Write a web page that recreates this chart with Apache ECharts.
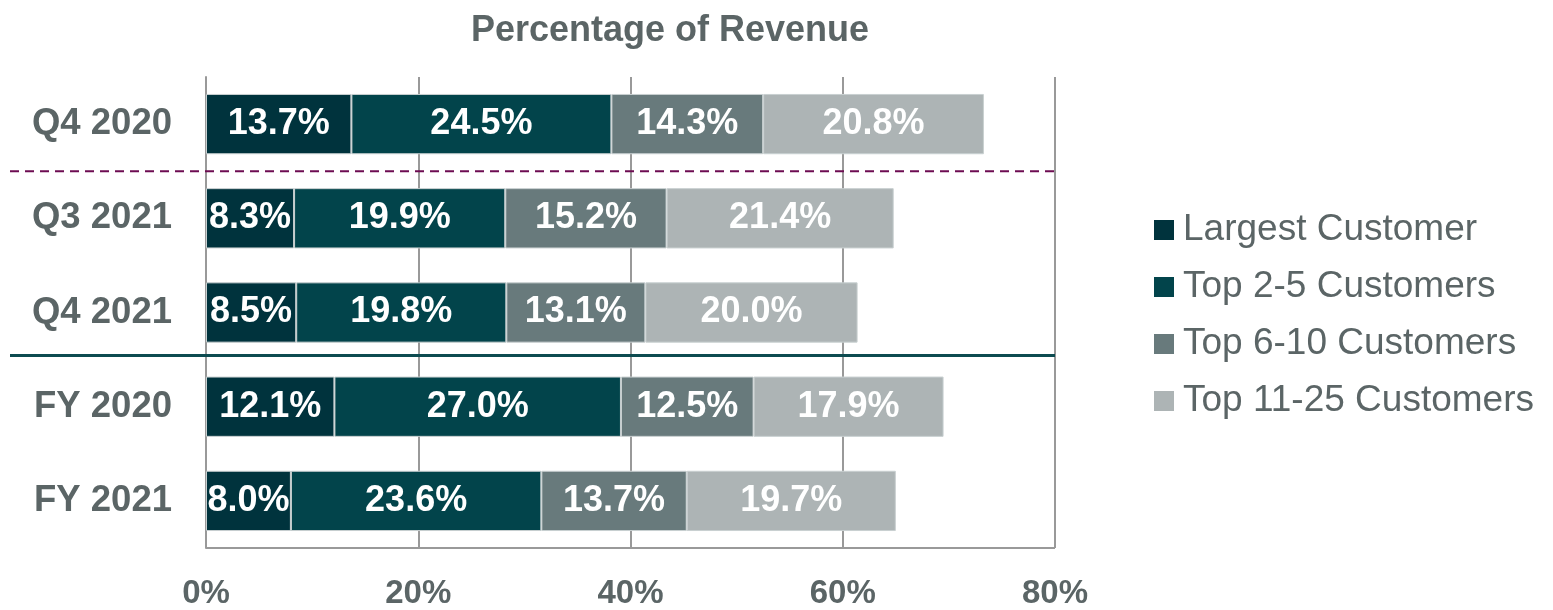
<!DOCTYPE html>
<html>
<head>
    <meta charset="UTF-8">
    <title>Percentage of Revenue</title>
    <style>
        html, body { margin: 0; padding: 0; background: #fff; }
        #main { width: 1553px; height: 610px; }
    </style>
</head>
<body>
    <div id="main"></div>
    <script src="https://cdn.jsdelivr.net/npm/echarts@6/dist/echarts.min.js"></script>
    <script type="text/javascript">
        // data
        let categories = ['Q4 2020', 'Q3 2021', 'Q4 2021', 'FY 2020', 'FY 2021'];
        let seriesNames = ['Largest Customer', 'Top 2-5 Customers', 'Top 6-10 Customers', 'Top 11-25 Customers'];
        let largest = [13.7, 8.3, 8.5, 12.1, 8.0];
        let top2to5 = [24.5, 19.9, 19.8, 27.0, 23.6];
        let top6to10 = [14.3, 15.2, 13.1, 12.5, 13.7];
        let top11to25 = [20.8, 21.4, 20.0, 17.9, 19.7];
        let xTicks = [0, 20, 40, 60, 80];

        let colors = ['#00333d', '#02444b', '#687a7c', '#adb4b5'];
        let textGray = '#5b6566';
        let font = '"Liberation Sans", Arial, sans-serif';

        let myChart = echarts.init(document.getElementById('main'));

        let allValues = [largest, top2to5, top6to10, top11to25];
        let series = [];
        for (let i = 0; i < seriesNames.length; i++) {
            series.push({
                name: seriesNames[i],
                type: 'bar',
                stack: 'rev',
                barWidth: '64%',
                data: allValues[i],
                itemStyle: {
                    color: colors[i],
                    borderColor: '#c9d0d1',
                    borderWidth: 1
                },
                label: {
                    show: true,
                    position: 'inside',
                    formatter: p => p.value.toFixed(1) + '%',
                    color: '#fff',
                    fontFamily: font,
                    fontWeight: 'bold',
                    fontSize: 36
                }
            });
        }

        myChart.setOption({
            animation: false,
            title: {
                text: 'Percentage of Revenue',
                left: 665,
                top: 8,
                textAlign: 'center',
                textStyle: { color: textGray, fontFamily: font, fontWeight: 'bold', fontSize: 36 }
            },
            legend: {
                orient: 'vertical',
                left: 1154,
                top: 210,
                padding: 0,
                icon: 'rect',
                itemWidth: 20,
                itemHeight: 20,
                itemGap: 17,
                data: seriesNames,
                itemStyle: { borderWidth: 0 },
                textStyle: { color: textGray, fontFamily: font, fontSize: 37, lineHeight: 40, padding: [0, 0, 0, 4] }
            },
            grid: { left: 206, right: 498, top: 77, bottom: 62, containLabel: false },
            xAxis: {
                type: 'value',
                min: xTicks[0],
                max: xTicks[xTicks.length - 1],
                interval: xTicks[1] - xTicks[0],
                axisLine: { show: false },
                axisTick: { show: false },
                splitLine: { show: true, lineStyle: { color: '#999', width: 2 } },
                axisLabel: {
                    formatter: '{value}%',
                    margin: 29,
                    color: textGray,
                    fontFamily: font,
                    fontWeight: 'bold',
                    fontSize: 33
                }
            },
            yAxis: {
                type: 'category',
                inverse: true,
                data: categories,
                axisLine: { show: true, lineStyle: { color: '#999', width: 2 } },
                axisTick: { show: false },
                axisLabel: {
                    margin: 34,
                    color: textGray,
                    fontFamily: font,
                    fontWeight: 'bold',
                    fontSize: 36.5
                }
            },
            series: series
        });

        // bottom axis line + separators between the groups of rows
        let grid = myChart.getModel().getComponent('grid').coordinateSystem.getRect();
        let yPix = c => myChart.convertToPixel({ yAxisIndex: 0 }, c);
        let dashY = (yPix(categories[0]) + yPix(categories[1])) / 2;
        let solidY = (yPix(categories[2]) + yPix(categories[3])) / 2 - 4;
        myChart.setOption({
            graphic: [
                {
                    type: 'line',
                    shape: { x1: grid.x, y1: grid.y + grid.height, x2: grid.x + grid.width, y2: grid.y + grid.height },
                    style: { stroke: '#999', lineWidth: 2 }
                },
                {
                    type: 'line',
                    shape: { x1: 10, y1: dashY, x2: grid.x + grid.width, y2: dashY },
                    style: { stroke: '#6d0c52', lineWidth: 2, lineDash: [9, 6] },
                    z: 10
                },
                {
                    type: 'line',
                    shape: { x1: 10, y1: solidY, x2: grid.x + grid.width, y2: solidY },
                    style: { stroke: '#0d4b50', lineWidth: 3 },
                    z: 10
                }
            ]
        });
    </script>
</body>
</html>
